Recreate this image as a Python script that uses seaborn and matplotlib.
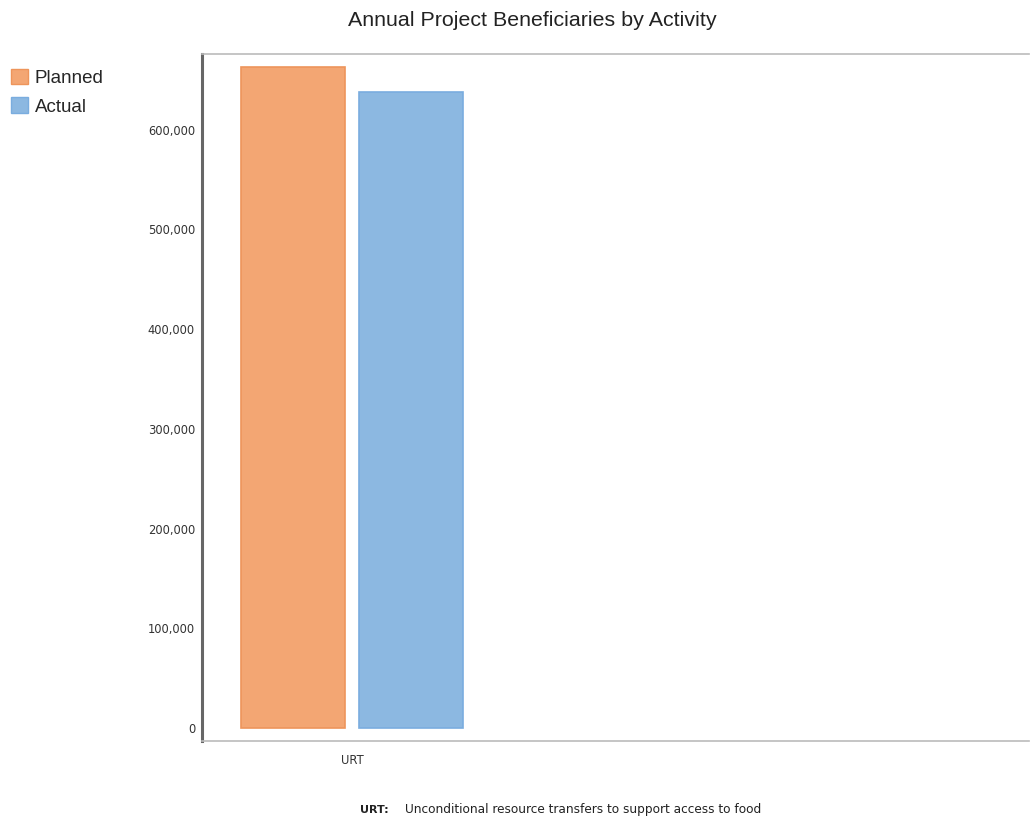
import pandas as pd
import seaborn as sns
import matplotlib.pyplot as plt
from matplotlib.ticker import FuncFormatter
from matplotlib.patches import Patch

activities = ['URT']
planned = [663000]
actual = [638000]
series_names = ['Planned', 'Actual']
footnote_code = 'URT:'
footnote_text = 'Unconditional resource transfers to support access to food'

df = pd.DataFrame({
    'Activity': activities * 2,
    'Beneficiaries': planned + actual,
    'Type': [series_names[0]] * len(activities) + [series_names[1]] * len(activities),
})

sns.set_style('white')
plt.rcParams['font.family'] = ['Liberation Sans', 'DejaVu Sans']
small_font = ['DejaVu Sans']

fig = plt.figure(figsize=(10.3, 8.19), dpi=100)
ax = fig.add_axes([202 / 1030, 78 / 819, 827 / 1030, 687 / 819])

palette = {'Planned': '#F3A673', 'Actual': '#8CB8E1'}
edges = {'Planned': '#EE955B', 'Actual': '#7AADDF'}
sns.barplot(data=df, x='Activity', y='Beneficiaries', hue='Type', palette=palette,
            width=0.8, gap=0.12, ax=ax, legend=False, saturation=1)
for cont, name in zip(ax.containers, series_names):
    for bar in cont:
        bar.set_edgecolor(edges[name])
        bar.set_linewidth(1.2)

ax.set_xlim(-0.508, 2.295)
ax.set_ylim(-13000, 676000)
ax.set_yticks(range(0, 700000, 100000))
ax.yaxis.set_major_formatter(FuncFormatter(lambda v, p: f'{int(v):,}'))
ax.set_xlabel('')
ax.set_ylabel('')
ax.tick_params(axis='both', length=0, colors='#333333')
ax.tick_params(axis='y', pad=5)
ax.tick_params(axis='x', pad=9)
for lbl in ax.get_yticklabels() + ax.get_xticklabels():
    lbl.set_family(small_font)
    lbl.set_fontsize(8.3)

ax.spines['right'].set_visible(False)
ax.spines['left'].set_color('#666666')
ax.spines['left'].set_linewidth(2.2)
ax.spines['top'].set_color('#BBBBBB')
ax.spines['top'].set_linewidth(1.2)
ax.spines['bottom'].set_color('#BBBBBB')
ax.spines['bottom'].set_linewidth(1.2)

handles = [Patch(facecolor=palette[n], edgecolor=edges[n], label=n) for n in series_names]
fig.legend(handles=handles, loc='upper left', bbox_to_anchor=(0.0035, 0.925), frameon=False,
           fontsize=13.5, handlelength=0.9, handleheight=0.9, handletextpad=0.35,
           labelspacing=0.55, borderaxespad=0)

fig.text(532 / 1030, 1 - 20 / 819, 'Annual Project Beneficiaries by Activity',
         ha='center', va='center', fontsize=15.4, color='#222222')
fig.text(360 / 1030, 1 - 810 / 819, footnote_code, ha='left', va='center', fontsize=8,
         fontweight='bold', color='#222222', family=small_font)
fig.text(405 / 1030, 1 - 810 / 819, footnote_text, ha='left', va='center', fontsize=8.7,
         color='#222222', family=small_font)

fig.savefig('out.png', dpi=100)
